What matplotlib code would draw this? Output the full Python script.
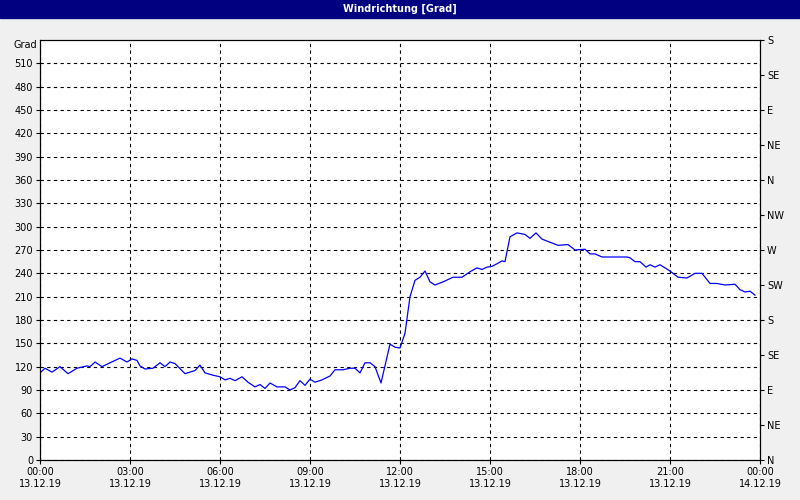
import matplotlib
matplotlib.use("Agg")
import matplotlib.pyplot as plt
import numpy as np

px = [40,45,52,60,68,77,87,90,95,102,110,120,127,132,137,140,145,153,160,165,170,175,185,195,200,205,213,220,225,230,235,242,248,255,260,265,270,277,285,290,295,300,305,310,315,322,330,335,343,350,355,360,365,370,375,381,390,395,400,405,410,415,420,425,430,435,443,453,462,470,477,482,487,492,498,502,505,510,517,525,530,536,542,550,558,568,575,585,590,595,602,627,630,635,640,646,650,655,660,670,678,687,695,702,710,717,725,735,740,745,750,755]
values = [112,118,113,120,111,118,121,120,126,120,125,131,126,130,128,121,117,118,125,120,126,124,111,115,122,112,109,107,103,105,102,107,100,94,97,92,99,94,94,90,93,102,96,104,100,103,108,116,116,118,118,112,125,125,120,99,149,145,144,163,210,231,235,243,229,225,229,235,235,242,247,245,248,249,253,256,255,287,292,290,285,292,284,280,276,277,270,271,265,265,261,261,260,255,255,248,251,248,251,243,235,234,240,240,227,227,225,226,219,216,217,212]
hours = [(p - 40) / 30.0 for p in px]

yticks = list(range(0, 540, 30))
right_pos = list(range(0, 541, 45))
right_labels = ["N","NE","E","SE","S","SW","W","NW","N","NE","E","SE","S"]
xticks = list(range(0, 25, 3))
xlabels = ["00:00\n13.12.19","03:00\n13.12.19","06:00\n13.12.19","09:00\n13.12.19","12:00\n13.12.19",
           "15:00\n13.12.19","18:00\n13.12.19","21:00\n13.12.19","00:00\n14.12.19"]

fig = plt.figure(figsize=(8, 5), dpi=100, facecolor="#f0f0f0")
fig.patches.append(plt.Rectangle((0, 482/500), 1, 18/500, transform=fig.transFigure, color="#000080", zorder=0))
fig.text(0.5, 491/500, "Windrichtung [Grad]", color="white", ha="center", va="center", fontsize=7, fontweight="bold")

ax = fig.add_axes([40/800, 40/500, 720/800, 420/500])
ax.plot(hours, values, color="#0000ff", lw=0.9)
ax.set_xlim(0, 24)
ax.set_ylim(0, 540)
ax.set_yticks(yticks)
ax.set_yticklabels([str(v) for v in yticks], fontsize=7)
ax.set_xticks(xticks)
ax.set_xticklabels(xlabels, fontsize=7)
ax.grid(True, color="black", ls=(0, (3, 3)), lw=0.8)
ax.tick_params(length=3, pad=2)
ax.text(-0.1, 534, "Grad", ha="right", va="center", fontsize=7)
ax2 = ax.twinx()
ax2.set_ylim(0, 540)
ax2.set_yticks(right_pos)
ax2.set_yticklabels(right_labels, fontsize=7)
ax2.tick_params(length=3, pad=2)
fig.savefig("out.png", facecolor=fig.get_facecolor())
